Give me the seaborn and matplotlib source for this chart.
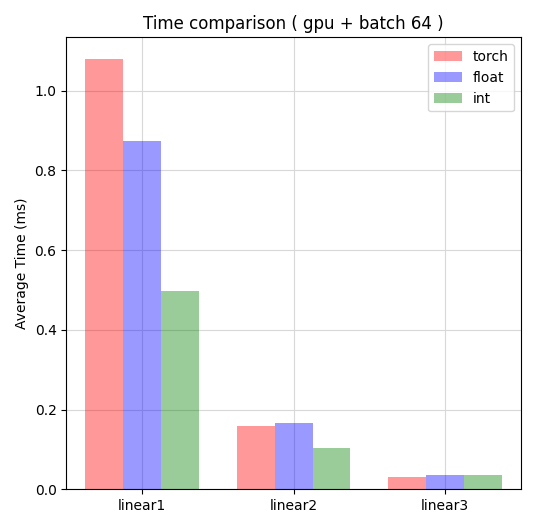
import matplotlib
matplotlib.use("Agg")
import matplotlib.pyplot as plt
import seaborn as sns
import pandas as pd

layers = ["linear1", "linear2", "linear3"]
torch_ms = [1.08, 0.158, 0.030]
float_ms = [0.875, 0.167, 0.035]
int_ms = [0.498, 0.103, 0.037]

df = pd.DataFrame({
    "layer": layers * 3,
    "time": torch_ms + float_ms + int_ms,
    "kind": ["torch"] * 3 + ["float"] * 3 + ["int"] * 3,
})

f, a = plt.subplots(figsize=(5.36, 5.28), dpi=100)
sns.barplot(data=df, x="layer", y="time", hue="kind", palette=["red", "blue", "green"],
            alpha=0.4, width=0.75, ax=a, saturation=1)
a.set_axisbelow(True)
a.grid(True, color="#d8d8d8", linewidth=0.8)
a.set_title("Time comparison ( gpu + batch 64 )")
a.set_ylabel("Average Time (ms)")
a.set_xlabel("")
a.legend(loc="upper right", title=None)
plt.tight_layout()
plt.savefig("out.png", dpi=100)
